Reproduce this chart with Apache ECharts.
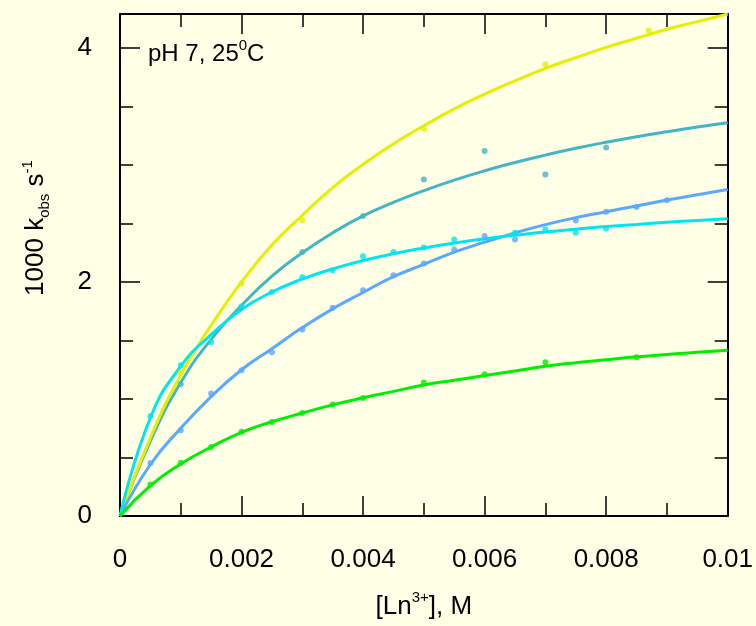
<!DOCTYPE html>
<html>
<head>
<meta charset="utf-8">
<script src="https://cdn.jsdelivr.net/npm/echarts@6/dist/echarts.min.js"></script>
<style>
  html, body { margin: 0; padding: 0; background: #FFFFE6; }
  #chart { width: 756px; height: 626px; }
</style>
</head>
<body>
<div id="chart"></div>
<script>
// fitted curves, every 0.0005 M
var curveX = [0, 0.0005, 0.001, 0.0015, 0.002, 0.0025, 0.003, 0.0035, 0.004, 0.0045, 0.005,
    0.0055, 0.006, 0.0065, 0.007, 0.0075, 0.008, 0.0085, 0.009, 0.0095, 0.01];
var yellowFit = [0, 0.67, 1.205, 1.63, 2.0, 2.315, 2.57, 2.807, 3.005, 3.182, 3.335,
    3.479, 3.605, 3.719, 3.825, 3.917, 4.005, 4.083, 4.16, 4.225, 4.29];
var tealFit = [0, 0.64, 1.14, 1.51, 1.80, 2.05, 2.25, 2.42, 2.565, 2.68, 2.78,
    2.87, 2.95, 3.021, 3.084, 3.142, 3.194, 3.241, 3.284, 3.324, 3.36];
var cyanFit = [0, 0.84, 1.28, 1.55, 1.765, 1.914, 2.025, 2.112, 2.183, 2.241, 2.29,
    2.332, 2.368, 2.399, 2.427, 2.451, 2.473, 2.492, 2.51, 2.526, 2.54];
var blueFit = [0, 0.44, 0.75, 1.02, 1.25, 1.43, 1.61, 1.77, 1.91, 2.045, 2.15,
    2.255, 2.34, 2.42, 2.49, 2.55, 2.60, 2.65, 2.70, 2.745, 2.79];
var greenFit = [0, 0.26, 0.445, 0.59, 0.715, 0.805, 0.88, 0.95, 1.01, 1.065, 1.12,
    1.16, 1.20, 1.24, 1.28, 1.31, 1.335, 1.36, 1.38, 1.40, 1.416];

// measured points
var yellowX = [0.001, 0.002, 0.003, 0.005, 0.007, 0.0087];
var yellowY = [1.226, 1.986, 2.527, 3.31, 3.86, 4.15];
var tealX = [0.001, 0.002, 0.003, 0.004, 0.005, 0.006, 0.007, 0.008];
var tealY = [1.126, 1.78, 2.256, 2.564, 2.875, 3.12, 2.918, 3.15];
var cyanX = [0.0005, 0.001, 0.0015, 0.002, 0.0025, 0.003, 0.0035, 0.004, 0.0045, 0.005, 0.0055, 0.0065, 0.007, 0.0075, 0.008];
var cyanY = [0.855, 1.288, 1.487, 1.79, 1.915, 2.04, 2.10, 2.22, 2.256, 2.294, 2.362, 2.42, 2.45, 2.42, 2.456];
var blueX = [0.0005, 0.001, 0.0015, 0.002, 0.0025, 0.003, 0.0035, 0.004, 0.0045, 0.005, 0.0055, 0.006, 0.0065, 0.0075, 0.008, 0.0085, 0.009];
var blueY = [0.453, 0.732, 1.046, 1.245, 1.40, 1.593, 1.78, 1.929, 2.057, 2.157, 2.277, 2.393, 2.362, 2.525, 2.60, 2.64, 2.698];
var greenX = [0.0005, 0.001, 0.0015, 0.002, 0.0025, 0.003, 0.0035, 0.004, 0.005, 0.006, 0.007, 0.0085];
var greenY = [0.27, 0.455, 0.59, 0.72, 0.803, 0.88, 0.952, 1.009, 1.14, 1.211, 1.314, 1.356];

var xTicks = [0, 0.002, 0.004, 0.006, 0.008, 0.01];
var yTicks = [0, 2, 4];

var font = 'Liberation Sans, Arial, sans-serif';

function zip(xs, ys) {
    var out = [];
    for (var i = 0; i < xs.length; i++) {
        out.push([xs[i], ys[i]]);
    }
    return out;
}

function curve(name, ys, color) {
    return {
        name: name,
        type: 'line',
        data: zip(curveX, ys),
        smooth: 0.5,
        showSymbol: false,
        symbol: 'none',
        lineStyle: { color: color, width: 3 },
        silent: true,
        z: 2
    };
}

function dots(name, xs, ys, color) {
    return {
        name: name,
        type: 'scatter',
        data: zip(xs, ys),
        symbolSize: 6,
        itemStyle: { color: color },
        silent: true,
        z: 3
    };
}

function xAxis(pos) {
    return {
        type: 'value',
        position: pos,
        min: 0,
        max: 0.01,
        interval: 0.002,
        axisLine: { show: true, onZero: false, lineStyle: { color: '#000', width: 2 } },
        axisTick: { show: true, inside: true, length: 20, lineStyle: { color: '#000', width: 1.5 } },
        minorTick: { show: true, splitNumber: 2, length: 13, lineStyle: { color: '#000', width: 1.5 } },
        splitLine: { show: false },
        axisLabel: {
            show: pos == 'bottom',
            margin: 31,
            fontSize: 26,
            fontFamily: font,
            color: '#000',
            formatter: function (v) {
                for (var i = 0; i < xTicks.length; i++) {
                    if (Math.abs(v - xTicks[i]) < 1e-9) return String(xTicks[i]);
                }
                return '';
            }
        }
    };
}

function yAxis(pos) {
    return {
        type: 'value',
        position: pos,
        min: 0,
        max: 4.29,
        interval: 2,
        axisLine: { show: true, onZero: false, lineStyle: { color: '#000', width: 2 } },
        axisTick: { show: true, inside: true, length: 20, lineStyle: { color: '#000', width: 1.5 } },
        minorTick: { show: true, splitNumber: 4, length: 13, lineStyle: { color: '#000', width: 1.5 } },
        splitLine: { show: false },
        axisLabel: {
            show: pos == 'left',
            margin: 28,
            fontSize: 26,
            fontFamily: font,
            color: '#000',
            formatter: function (v) {
                return yTicks.indexOf(v) >= 0 ? String(v) : '';
            }
        }
    };
}

var chart = echarts.init(document.getElementById('chart'), null, { renderer: 'canvas' });

var bottomAxis = xAxis('bottom');
bottomAxis.name = '{n|[Ln}{s|3+}{n|], M}';
bottomAxis.nameLocation = 'middle';
bottomAxis.nameGap = 74;
bottomAxis.nameTextStyle = {
    rich: {
        n: { fontSize: 26, fontFamily: font, color: '#000', lineHeight: 30, verticalAlign: 'bottom' },
        s: { fontSize: 15, fontFamily: font, color: '#000', lineHeight: 15, verticalAlign: 'top' }
    }
};

var option = {
    backgroundColor: '#FFFFE6',
    animation: false,
    grid: { left: 120, top: 14, right: 24, bottom: 110 },
    xAxis: [bottomAxis, xAxis('top')],
    yAxis: [yAxis('left'), yAxis('right')],
    graphic: [
        {
            type: 'text',
            left: 148,
            top: 38,
            style: {
                text: '{n|pH 7, 25}{s|0}{n|C}',
                rich: {
                    n: { fontSize: 24, fontFamily: font, fill: '#000', lineHeight: 28, verticalAlign: 'bottom' },
                    s: { fontSize: 15, fontFamily: font, fill: '#000', lineHeight: 15, verticalAlign: 'top' }
                }
            }
        },
        {
            type: 'text',
            x: 36,
            y: 228,
            rotation: Math.PI / 2,
            style: {
                text: '{n|1000 k}{b|obs}{n| s}{s|-1}',
                align: 'center',
                verticalAlign: 'middle',
                rich: {
                    n: { fontSize: 26, fontFamily: font, fill: '#000', lineHeight: 32, verticalAlign: 'middle' },
                    b: { fontSize: 15, fontFamily: font, fill: '#000', lineHeight: 15, verticalAlign: 'bottom' },
                    s: { fontSize: 15, fontFamily: font, fill: '#000', lineHeight: 15, verticalAlign: 'top' }
                }
            }
        }
    ],
    series: [
        curve('teal', tealFit, '#45B5C4'),
        curve('yellow', yellowFit, '#E5EF00'),
        curve('blue', blueFit, '#5AA8FF'),
        curve('cyan', cyanFit, '#00E5EE'),
        curve('green', greenFit, '#00EE00'),
        dots('teal pts', tealX, tealY, '#45B5C4'),
        dots('yellow pts', yellowX, yellowY, '#E5EF00'),
        dots('blue pts', blueX, blueY, '#5AA8FF'),
        dots('cyan pts', cyanX, cyanY, '#00E5EE'),
        dots('green pts', greenX, greenY, '#00EE00')
    ]
};

chart.setOption(option);
</script>
</body>
</html>
